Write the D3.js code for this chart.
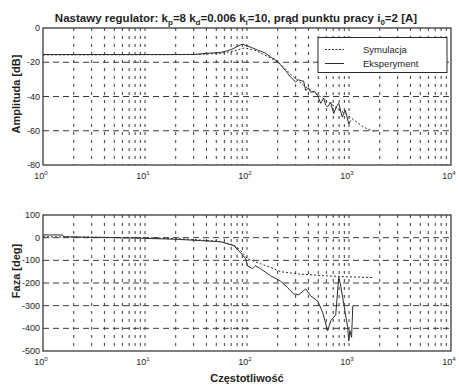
<!DOCTYPE html>
<html>
<head>
<meta charset="utf-8">
<script src="https://cdn.jsdelivr.net/npm/d3@7"></script>
<style>
  body { margin: 0; background: #fff; }
  text { font-family: Arial, "Liberation Sans", sans-serif; fill: #1e1e1e; }
</style>
</head>
<body>
<div id="chart-area"></div>
<script>
// amplitude, simulation
const ampSimFreq = [1, 10, 30, 55, 74, 95, 120, 170, 213, 267, 359, 565, 972, 1397, 1750];
const ampSim = [-15.7, -15.6, -15.5, -14.8, -13.5, -11.6, -13, -17.5, -21, -27, -33.5, -41.4, -51, -58, -60.4];
// amplitude, experiment
const ampExpFreq = [1, 20, 32, 40, 55, 65, 74, 82, 90, 100, 110, 127, 150, 170, 190, 213, 240, 267, 300, 318, 340, 359, 376, 400, 421, 460, 493, 527, 565, 590, 618, 662, 708, 750, 793, 858, 920, 995, 1040];
const ampExp = [-15.5, -15.5, -15.4, -14.8, -14.3, -13.2, -12, -10.5, -9.4, -10.5, -11.3, -12.9, -14.5, -16.9, -18.5, -21.5, -25, -28.6, -31.5, -30.2, -30.8, -31, -36.5, -35, -37.5, -37, -39.5, -44, -41, -45, -46, -43.5, -50, -46, -44, -52, -48, -56, -54];
// phase, simulation
const phSimFreq = [1, 10, 30, 55, 74, 86, 101, 136, 170, 213, 321, 565, 1000, 1750];
const phSim = [4, 0, -8, -17, -32, -55, -93, -115, -131, -150, -160, -168, -173, -176];
// phase, experiment
const phExpFreq = [1, 1.55, 1.6, 5, 10, 20, 35, 55, 74, 86, 97, 101, 113, 121, 136, 170, 213, 250, 286, 321, 376, 421, 493, 552, 618, 662, 741, 793, 820, 888, 972, 995, 1020, 1060, 1089];
const phExp = [12, 12, 4, 0, -3, -7, -13, -18, -35, -65, -93, -124, -137, -124, -137, -168, -192, -220, -248, -252, -226, -257, -279, -330, -411, -367, -340, -175, -200, -292, -397, -456, -410, -440, -300];
// tick labels
const ampTicks = [0, -20, -40, -60, -80];
const phTicks = [100, 0, -100, -200, -300, -400, -500];
const decades = [0, 1, 2, 3, 4];

const svg = d3.select('#chart-area')
  .append('svg')
  .attr('width', 459)
  .attr('height', 386);

const x = d3.scaleLog().domain([1, 1e4]).range([43, 451]);

// vertical grid positions: every 1..9 x decade inside the box
const gridX = [];
[0, 1, 2, 3].forEach(d => {
  for (let k = 1; k <= 9; k++) {
    const f = k * Math.pow(10, d);
    if (f > 1) gridX.push(f);
  }
});

function drawPanel(y, gridY, ticks) {
  const [top, bottom] = [y.range()[1], y.range()[0]];
  const g = svg.append('g');

  g.append('rect')
    .attr('x', x.range()[0]).attr('y', top)
    .attr('width', x.range()[1] - x.range()[0]).attr('height', bottom - top)
    .attr('fill', '#fff');

  // grid
  g.selectAll('.vg').data(gridX).enter().append('line')
    .attr('x1', d => x(d)).attr('x2', d => x(d))
    .attr('y1', top).attr('y2', bottom)
    .attr('stroke', '#3a3a3a').attr('stroke-width', 1)
    .attr('stroke-dasharray', '3,5');
  g.selectAll('.hg').data(gridY).enter().append('line')
    .attr('x1', x.range()[0]).attr('x2', x.range()[1])
    .attr('y1', d => y(d)).attr('y2', d => y(d))
    .attr('stroke', '#3a3a3a').attr('stroke-width', 1)
    .attr('stroke-dasharray', '6,4');

  // y tick labels
  g.selectAll('.yt').data(ticks).enter().append('text')
    .attr('x', 40).attr('y', d => y(d) + 3)
    .attr('text-anchor', 'end')
    .attr('font-size', '9px')
    .text(d => d);

  // x tick labels 10^n
  const xt = g.selectAll('.xt').data(decades).enter().append('text')
    .attr('x', d => x(Math.pow(10, d)) - 2)
    .attr('y', bottom + 14)
    .attr('text-anchor', 'middle')
    .attr('font-size', '9px');
  xt.append('tspan').text('10');
  xt.append('tspan').attr('dy', -4).attr('font-size', '6px').text(d => d);

  // frame
  g.append('rect')
    .attr('x', x.range()[0]).attr('y', top)
    .attr('width', x.range()[1] - x.range()[0]).attr('height', bottom - top)
    .attr('fill', 'none').attr('stroke', '#2a2a2a').attr('stroke-width', 1.2);
  return g;
}

function drawCurve(g, y, fs, vs, dashed) {
  const line = d3.line().x(d => x(d[0])).y(d => y(d[1]));
  g.append('path')
    .datum(d3.zip(fs, vs))
    .attr('d', line)
    .attr('fill', 'none')
    .attr('stroke', '#2e2e2e')
    .attr('stroke-width', 1)
    .attr('stroke-dasharray', dashed ? '2,2' : null);
}

// amplitude panel
const yAmp = d3.scaleLinear().domain([-80, 0]).range([165, 28]);
const gA = drawPanel(yAmp, [-20, -40, -60], ampTicks);
drawCurve(gA, yAmp, ampSimFreq, ampSim, true);
drawCurve(gA, yAmp, ampExpFreq, ampExp, false);

// legend
const lg = gA.append('g');
lg.append('rect')
  .attr('x', 318).attr('y', 37.5).attr('width', 129).attr('height', 35)
  .attr('fill', '#fff').attr('stroke', '#2a2a2a').attr('stroke-width', 1);
[['Symulacja', true, 49.5], ['Eksperyment', false, 63.5]].forEach(e => {
  lg.append('line')
    .attr('x1', 325).attr('x2', 344).attr('y1', e[2]).attr('y2', e[2])
    .attr('stroke', '#2e2e2e').attr('stroke-width', 1)
    .attr('stroke-dasharray', e[1] ? '2,1.5' : null);
  lg.append('text')
    .attr('x', 363).attr('y', e[2] + 3)
    .attr('font-size', '9.5px')
    .text(e[0]);
});

// phase panel
const yPh = d3.scaleLinear().domain([-500, 100]).range([351, 215]);
const gP = drawPanel(yPh, [0, -100, -200, -300, -400], phTicks);
drawCurve(gP, yPh, phSimFreq, phSim, true);
drawCurve(gP, yPh, phExpFreq, phExp, false);

// title
const t = svg.append('text')
  .attr('x', 236).attr('y', 22)
  .attr('text-anchor', 'middle')
  .attr('font-size', '11.5px')
  .attr('font-weight', 'bold');
t.append('tspan').text('Nastawy regulator: k');
t.append('tspan').attr('dy', 3).attr('font-size', '8px').text('p');
t.append('tspan').attr('dy', -3).text('=8 k');
t.append('tspan').attr('dy', 3).attr('font-size', '8px').text('d');
t.append('tspan').attr('dy', -3).text('=0.006 k');
t.append('tspan').attr('dy', 3).attr('font-size', '8px').text('i');
t.append('tspan').attr('dy', -3).text('=10, prąd punktu pracy i');
t.append('tspan').attr('dy', 3).attr('font-size', '8px').text('0');
t.append('tspan').attr('dy', -3).text('=2 [A]');

// axis labels
svg.append('text')
  .attr('transform', 'translate(20, 94) rotate(-90)')
  .attr('text-anchor', 'middle')
  .attr('font-size', '11px').attr('font-weight', 'bold')
  .text('Amplituda [dB]');
svg.append('text')
  .attr('transform', 'translate(20, 271) rotate(-90)')
  .attr('text-anchor', 'middle')
  .attr('font-size', '11px').attr('font-weight', 'bold')
  .text('Faza [deg]');
svg.append('text')
  .attr('x', 247).attr('y', 382)
  .attr('text-anchor', 'middle')
  .attr('font-size', '11px').attr('font-weight', 'bold')
  .text('Częstotliwość');
</script>
</body>
</html>
